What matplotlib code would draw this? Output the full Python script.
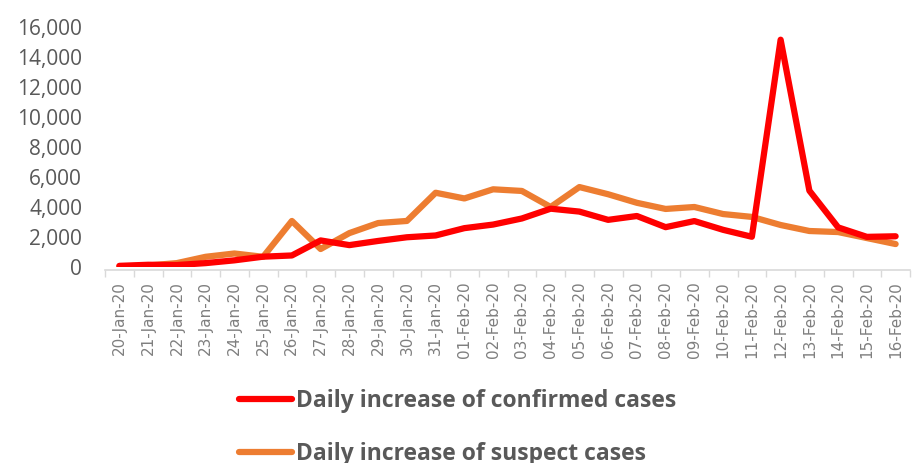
import matplotlib
matplotlib.use("Agg")
import matplotlib.pyplot as plt
import numpy as np

dates = ["20-Jan-20", "21-Jan-20", "22-Jan-20", "23-Jan-20", "24-Jan-20", "25-Jan-20",
         "26-Jan-20", "27-Jan-20", "28-Jan-20", "29-Jan-20", "30-Jan-20", "31-Jan-20",
         "01-Feb-20", "02-Feb-20", "03-Feb-20", "04-Feb-20", "05-Feb-20", "06-Feb-20",
         "07-Feb-20", "08-Feb-20", "09-Feb-20", "10-Feb-20", "11-Feb-20", "12-Feb-20",
         "13-Feb-20", "14-Feb-20", "15-Feb-20", "16-Feb-20"]
confirmed = [77, 149, 131, 259, 444, 688, 769, 1771, 1459, 1737, 1982, 2102,
             2590, 2829, 3235, 3887, 3694, 3143, 3399, 2656, 3062, 2478, 2015, 15152,
             5090, 2641, 2009, 2048]
suspect = [27, 100, 260, 680, 900, 680, 3070, 1200, 2260, 2930, 3070, 4950,
           4570, 5180, 5070, 4000, 5330, 4850, 4280, 3870, 4000, 3530, 3340, 2800,
           2400, 2330, 1930, 1530]

plt.rcParams['font.family'] = ['Open Sans', 'DejaVu Sans']

fig = plt.figure(figsize=(9.16, 4.63), dpi=100)
ax = fig.add_axes([105/916, 1 - 267/463, 805/916, 240/463])

for s in ['top', 'right', 'left']:
    ax.spines[s].set_visible(False)
ax.spines['bottom'].set_position(('outward', 2))
ax.spines['bottom'].set_color('#D9D9D9')
ax.spines['bottom'].set_linewidth(1.2)

x = np.arange(len(dates))
ax.plot(x, confirmed, color='#FF0000', lw=4.5, solid_joinstyle='round',
        solid_capstyle='round', label='Daily increase of confirmed cases', zorder=3)
ax.plot(x, suspect, color='#ED7D31', lw=4.5, solid_joinstyle='round',
        solid_capstyle='round', label='Daily increase of suspect cases', zorder=2)

ax.set_xlim(-0.5, len(dates) - 0.5)
ax.set_ylim(0, 16000)
ax.set_yticks(np.arange(0, 16001, 2000))
ax.set_yticklabels(["{:,}".format(v) for v in range(0, 16001, 2000)],
                   fontsize=15, color='#595959')
ax.tick_params(axis='y', length=0, pad=16.5)

ax.set_xticks(x)
ax.set_xticklabels(dates, rotation=90, fontsize=11, color='#7f7f7f',
                   family='DejaVu Sans')
ax.set_xticks(np.arange(-0.5, len(dates), 1), minor=True)
ax.tick_params(axis='x', which='major', length=0, pad=8)
ax.tick_params(axis='x', which='minor', length=5, color='#D9D9D9', width=1)

leg = fig.legend(loc='upper left', bbox_to_anchor=(239/916, 1 - 389/463),
                 frameon=False, handlelength=2.3, handletextpad=0.2,
                 labelspacing=1.25, borderpad=0, borderaxespad=0,
                 prop={'weight': 'bold', 'size': 16.5})
for t in leg.get_texts():
    t.set_color('#595959')

fig.savefig("out.png", dpi=100)
